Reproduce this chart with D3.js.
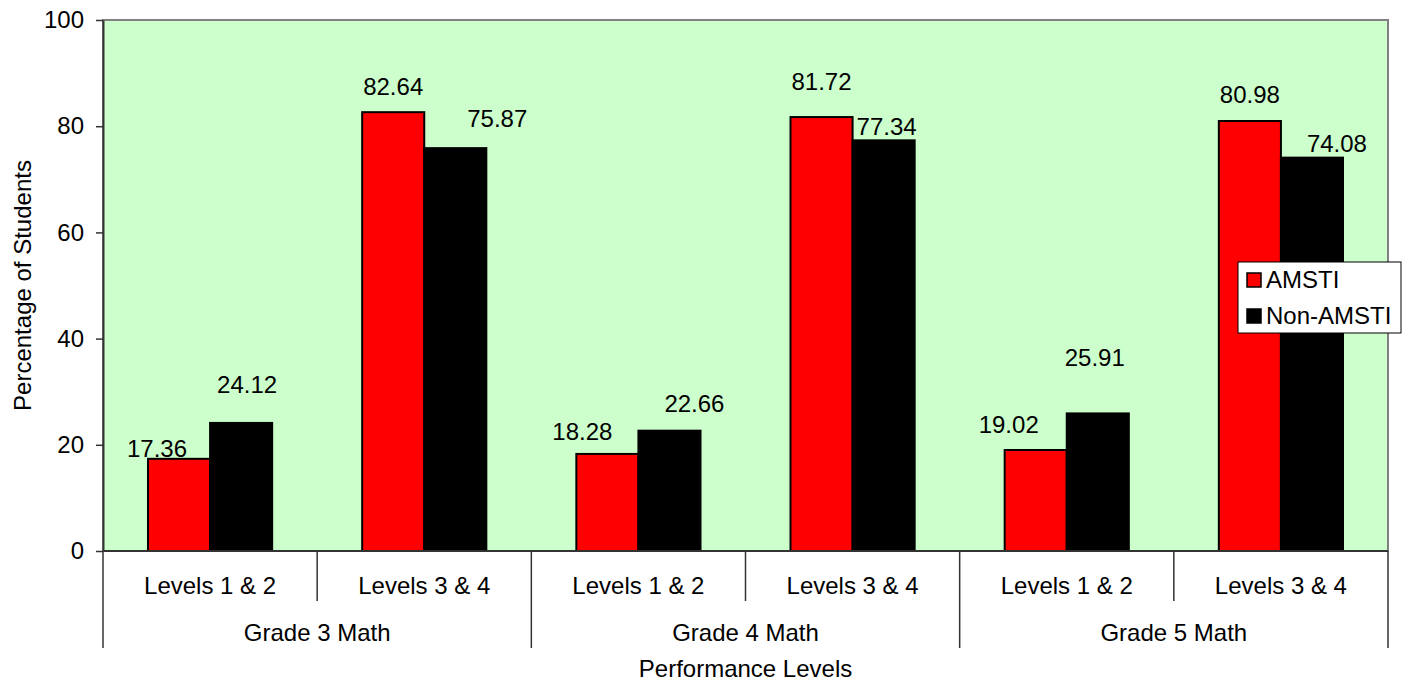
<!DOCTYPE html>
<html>
<head>
<meta charset="utf-8">
<script src="https://cdn.jsdelivr.net/npm/d3@7"></script>
<style>
  body { margin: 0; background: #fff; }
  text { font-family: "Liberation Sans", Arial, sans-serif; fill: #000; }
</style>
</head>
<body>
<div id="chart"></div>
<script>
var grades = ['Grade 3 Math', 'Grade 4 Math', 'Grade 5 Math'];
var levels = ['Levels 1 & 2', 'Levels 3 & 4'];
var seriesNames = ['AMSTI', 'Non-AMSTI'];
var amsti = [17.36, 82.64, 18.28, 81.72, 19.02, 80.98];
var nonAmsti = [24.12, 75.87, 22.66, 77.34, 25.91, 74.08];
var yTicks = [0, 20, 40, 60, 80, 100];

// label nudges [dx, gap above bar top], placed by hand in the original
var labelNudge = [
    [[-22, 2], [6, 30]],
    [[0, 17], [42, 21]],
    [[-25, 14], [25, 19]],
    [[0, 27], [3, 5]],
    [[-27, 17], [-3, 47]],
    [[0, 18], [25, 6]]
];

var colors = ['#ff0000', '#000000'];
var fontSize = '24px';

var margin = {top: 20, right: 21, bottom: 130, left: 103};
var width = 1409 - margin.left - margin.right,
    height = 681 - margin.top - margin.bottom;

var svg = d3.select('#chart').append('svg')
    .attr('width', 1409)
    .attr('height', 681);

var g = svg.append('g')
    .attr('transform', `translate(${margin.left}, ${margin.top})`);

// one category per grade/level pair
var cats = [];
grades.forEach((gr, gi) => {
    levels.forEach((lv, li) => {
        var i = gi * levels.length + li;
        cats.push({grade: gr, level: lv, key: gr + '|' + lv, values: [amsti[i], nonAmsti[i]], idx: i});
    });
});

var x0 = d3.scaleBand()
    .domain(cats.map(d => d.key))
    .range([0, width])
    .padding(0);

var x1 = d3.scaleBand()
    .domain(seriesNames)
    .range([0, x0.bandwidth()])
    .paddingInner(0)
    .paddingOuter(0.725);

var yScale = d3.scaleLinear()
    .domain([0, 100])
    .range([height, 0]);

// plot background
g.append('rect')
    .attr('width', width)
    .attr('height', height)
    .attr('fill', '#ccffcc')
    .attr('stroke', '#808080')
    .attr('stroke-width', 2);

// bars
var cat = g.selectAll('.cat')
    .data(cats)
    .enter().append('g')
    .attr('class', 'cat')
    .attr('transform', d => `translate(${x0(d.key)}, 0)`);

cat.selectAll('rect')
    .data(d => d.values.map((v, s) => ({v: v, s: s, idx: d.idx})))
    .enter().append('rect')
    .attr('x', d => x1(seriesNames[d.s]))
    .attr('y', d => yScale(d.v))
    .attr('width', x1.bandwidth())
    .attr('height', d => height - yScale(d.v))
    .attr('fill', d => colors[d.s])
    .attr('stroke', '#000')
    .attr('stroke-width', 2);

cat.selectAll('.lbl')
    .data(d => d.values.map((v, s) => ({v: v, s: s, idx: d.idx})))
    .enter().append('text')
    .attr('class', 'lbl')
    .attr('x', d => x1(seriesNames[d.s]) + x1.bandwidth() / 2 + labelNudge[d.idx][d.s][0])
    .attr('y', d => yScale(d.v) - labelNudge[d.idx][d.s][1])
    .attr('text-anchor', 'middle')
    .style('font-size', fontSize)
    .text(d => d.v.toFixed(2));

// y axis
var yAxis = d3.axisLeft(yScale)
    .tickValues(yTicks)
    .tickSize(7)
    .tickPadding(12)
    .tickSizeOuter(0);

g.append('g')
    .call(yAxis)
    .call(a => a.select('.domain').attr('stroke', '#333').attr('stroke-width', 2))
    .call(a => a.selectAll('.tick line').attr('stroke', '#333').attr('stroke-width', 1.5))
    .call(a => a.selectAll('.tick text')
        .style('font-size', fontSize)
        .style('font-family', '"Liberation Sans", Arial, sans-serif')
        .attr('fill', '#000'));

// x axis baseline
g.append('line')
    .attr('x1', 0).attr('x2', width)
    .attr('y1', height).attr('y2', height)
    .attr('stroke', '#333')
    .attr('stroke-width', 2);

// separators: short between levels, long between grades
var bounds = d3.range(cats.length + 1);
g.selectAll('.sep')
    .data(bounds)
    .enter().append('line')
    .attr('class', 'sep')
    .attr('x1', i => i < cats.length ? x0(cats[i].key) : width)
    .attr('x2', i => i < cats.length ? x0(cats[i].key) : width)
    .attr('y1', height)
    .attr('y2', i => i % levels.length == 0 ? height + 97 : height + 50)
    .attr('stroke', '#333')
    .attr('stroke-width', 1.5);

g.selectAll('.lvl')
    .data(cats)
    .enter().append('text')
    .attr('class', 'lvl')
    .attr('x', d => x0(d.key) + x0.bandwidth() / 2)
    .attr('y', height + 43)
    .attr('text-anchor', 'middle')
    .style('font-size', fontSize)
    .text(d => d.level);

g.selectAll('.grd')
    .data(grades)
    .enter().append('text')
    .attr('class', 'grd')
    .attr('x', (d, i) => x0(cats[i * levels.length].key) + x0.bandwidth() * levels.length / 2)
    .attr('y', height + 90)
    .attr('text-anchor', 'middle')
    .style('font-size', fontSize)
    .text(d => d);

// axis titles
g.append('text')
    .attr('x', width / 2)
    .attr('y', height + 126)
    .attr('text-anchor', 'middle')
    .style('font-size', fontSize)
    .text('Performance Levels');

svg.append('text')
    .attr('transform', `translate(31, ${margin.top + height / 2}) rotate(-90)`)
    .attr('text-anchor', 'middle')
    .style('font-size', fontSize)
    .text('Percentage of Students');

// legend
var legend = svg.append('g')
    .attr('transform', 'translate(1238, 262)');

legend.append('rect')
    .attr('width', 163)
    .attr('height', 71)
    .attr('fill', '#fff')
    .attr('stroke', '#000')
    .attr('stroke-width', 1);

var item = legend.selectAll('.item')
    .data(seriesNames)
    .enter().append('g')
    .attr('class', 'item')
    .attr('transform', (d, i) => `translate(9, ${11 + i * 36})`);

item.append('rect')
    .attr('width', 14)
    .attr('height', 14)
    .attr('fill', (d, i) => colors[i])
    .attr('stroke', '#000')
    .attr('stroke-width', 1.5);

item.append('text')
    .attr('x', 19)
    .attr('y', 15)
    .style('font-size', fontSize)
    .text(d => d);
</script>
</body>
</html>
